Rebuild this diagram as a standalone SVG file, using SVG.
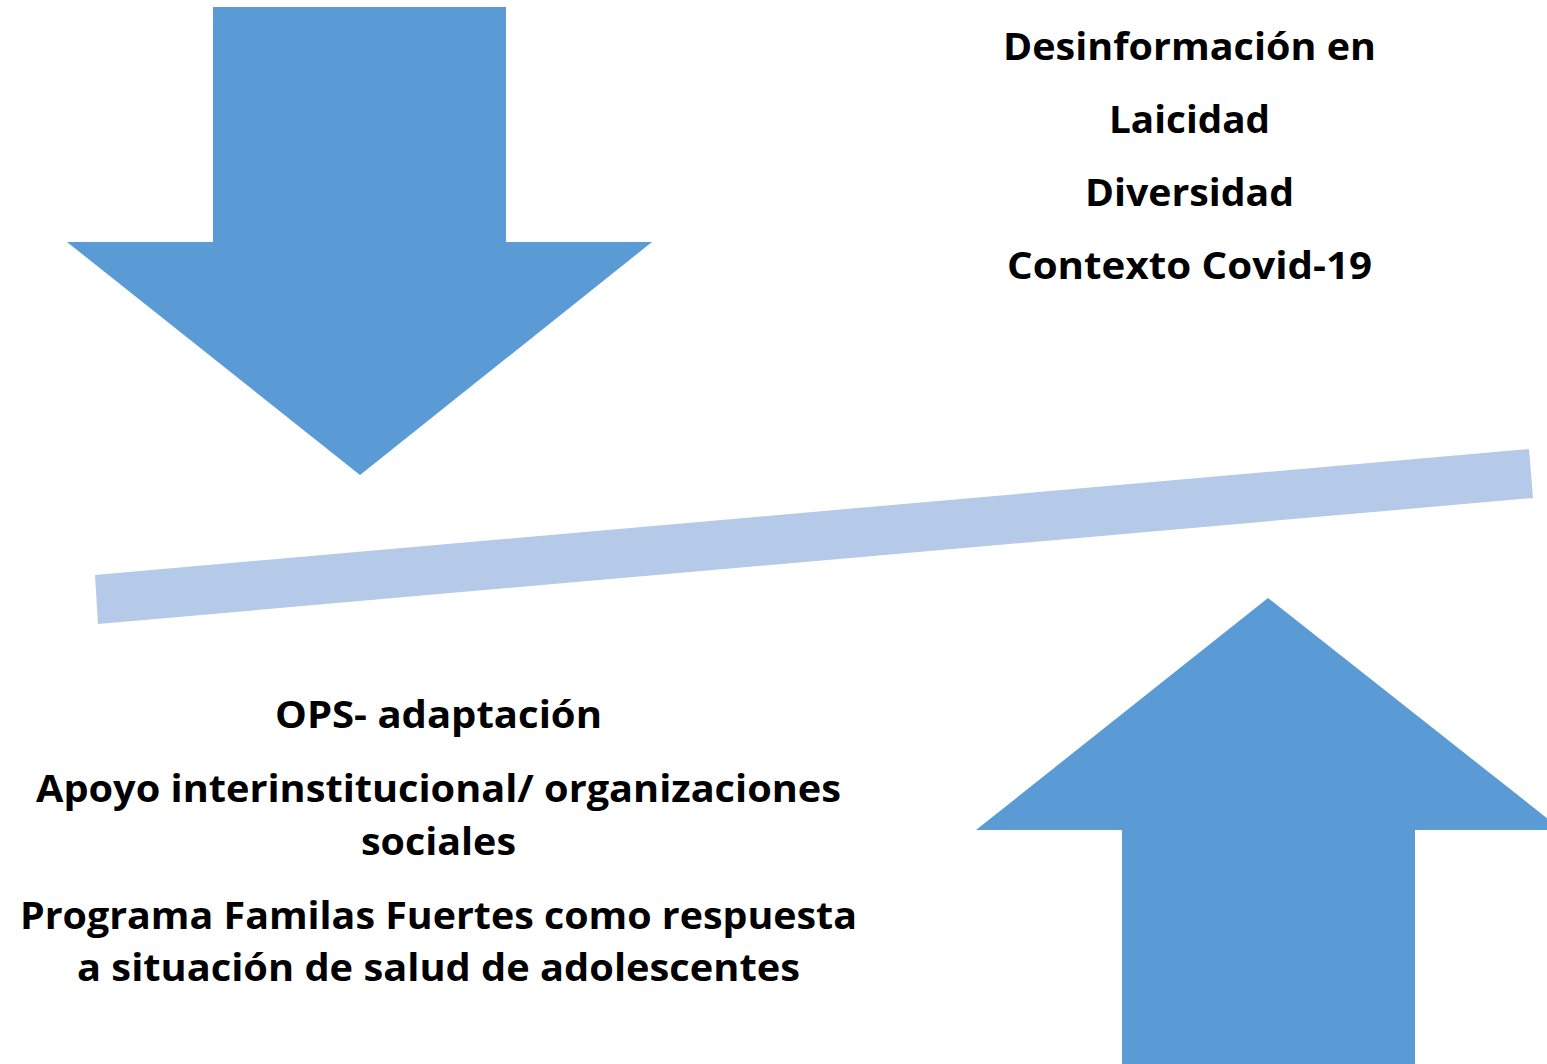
<svg xmlns="http://www.w3.org/2000/svg" width="1547" height="1064" viewBox="0 0 1547 1064">
<style>
.arrow{fill:#5B9BD5}
.bar{fill:#B5CAE8}
.t{font-family:"Open Sans","Liberation Sans",sans-serif;font-weight:bold;font-size:37px;fill:#000;text-anchor:middle}
</style>
<rect width="1547" height="1064" fill="#fff"/>
<g id="arrow-down">
<polygon class="arrow" points="213,7 506,7 506,242 652,242 360,475 67,242 213,242"/>
</g>
<g id="arrow-up">
<polygon class="arrow" points="1268,598 1562,830 1415,830 1415,1064 1122,1064 1122,830 976,830"/>
</g>
<g id="balance-bar">
<polygon class="bar" points="95,575 1529,449 1533,498 98,624"/>
</g>
<g id="text-top">
<text class="t" x="1189.5" y="60" textLength="373" lengthAdjust="spacingAndGlyphs">Desinformación en</text>
<text class="t" x="1189.5" y="133" textLength="161" lengthAdjust="spacingAndGlyphs">Laicidad</text>
<text class="t" x="1189.5" y="206" textLength="209" lengthAdjust="spacingAndGlyphs">Diversidad</text>
<text class="t" x="1189.5" y="279" textLength="365" lengthAdjust="spacingAndGlyphs">Contexto Covid-19</text>
</g>
<g id="text-bottom">
<text class="t" x="438.5" y="728" textLength="327" lengthAdjust="spacingAndGlyphs">OPS- adaptación</text>
<text class="t" x="438.5" y="802" textLength="805" lengthAdjust="spacingAndGlyphs">Apoyo interinstitucional/ organizaciones</text>
<text class="t" x="438.5" y="855" textLength="155" lengthAdjust="spacingAndGlyphs">sociales</text>
<text class="t" x="438.5" y="929" textLength="837" lengthAdjust="spacingAndGlyphs">Programa Familas Fuertes como respuesta</text>
<text class="t" x="438.5" y="981" textLength="723" lengthAdjust="spacingAndGlyphs">a situación de salud de adolescentes</text>
</g>
</svg>
